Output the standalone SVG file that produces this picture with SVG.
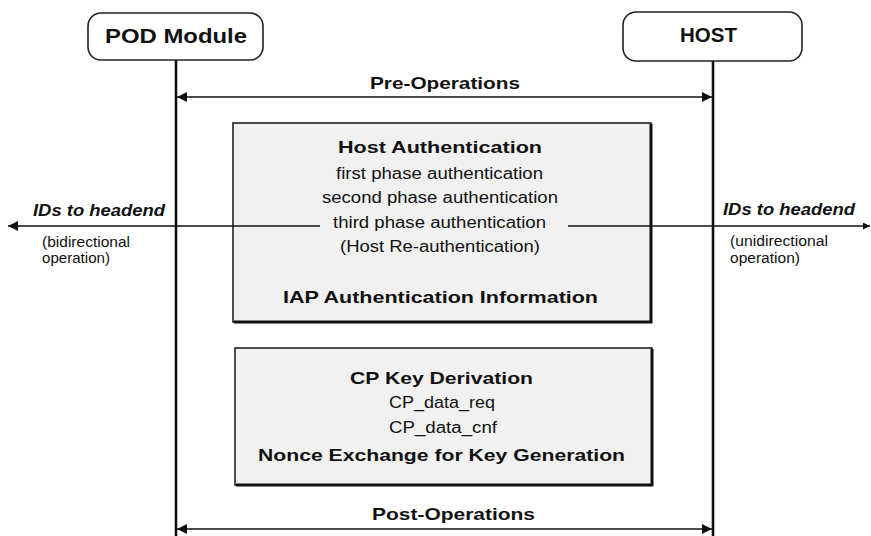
<svg xmlns="http://www.w3.org/2000/svg" width="871" height="536" viewBox="0 0 871 536">
  <style>
    text { font-family: "Liberation Sans", Arial, sans-serif; fill: #111; }
    .b { font-weight: bold; }
    .bi { font-weight: bold; font-style: italic; }
    .node { fill: #fff; stroke: #222; stroke-width: 1.6; }
    .panel { fill: #f1f1f1; stroke: #222; stroke-width: 1.6; }
    .shadow { fill: none; stroke: #111; stroke-width: 3; }
    .life { stroke: #111; stroke-width: 2.6; fill: none; }
    .msg { stroke: #111; stroke-width: 1.6; fill: none; }
  </style>
  <defs>
    <marker id="head" viewBox="0 0 10 10" refX="10" refY="5" markerWidth="11" markerHeight="10" markerUnits="userSpaceOnUse" orient="auto-start-reverse">
      <path d="M0,0 L10,5 L0,10 z" fill="#111"/>
    </marker>
    <marker id="headSmall" viewBox="0 0 10 10" refX="10" refY="5" markerWidth="8" markerHeight="7" markerUnits="userSpaceOnUse" orient="auto">
      <path d="M0,0 L10,5 L0,10 z" fill="#111"/>
    </marker>
  </defs>

  <rect width="871" height="536" fill="#fff"/>

  <!-- lifelines -->
  <g id="lifelines">
    <line class="life" x1="176" y1="60" x2="176" y2="536"/>
    <line class="life" x1="713" y1="61" x2="713" y2="536"/>
  </g>

  <!-- participants -->
  <g id="pod-module">
    <rect class="node" x="88" y="13" width="175" height="47" rx="13"/>
    <text class="b" x="105" y="43" font-size="20" textLength="142" lengthAdjust="spacingAndGlyphs">POD Module</text>
  </g>
  <g id="host">
    <rect class="node" x="623" y="12" width="179" height="49" rx="13"/>
    <text class="b" x="680" y="42" font-size="21" textLength="57" lengthAdjust="spacingAndGlyphs">HOST</text>
  </g>

  <!-- authentication panel -->
  <g id="host-authentication">
    <rect class="panel" x="233" y="123" width="418" height="199"/>
    <polyline class="shadow" points="651,124 651,322 234,322"/>
    <text class="b" x="338" y="153" font-size="17" textLength="204" lengthAdjust="spacingAndGlyphs">Host Authentication</text>
    <text x="336" y="179" font-size="16" textLength="207" lengthAdjust="spacingAndGlyphs">first phase authentication</text>
    <text x="322" y="203" font-size="16" textLength="236" lengthAdjust="spacingAndGlyphs">second phase authentication</text>
    <text x="333" y="228" font-size="16" textLength="213" lengthAdjust="spacingAndGlyphs">third phase authentication</text>
    <text x="340" y="252" font-size="16" textLength="200" lengthAdjust="spacingAndGlyphs">(Host Re-authentication)</text>
    <text class="b" x="283" y="303" font-size="17" textLength="315" lengthAdjust="spacingAndGlyphs">IAP Authentication Information</text>
  </g>

  <!-- key derivation panel -->
  <g id="cp-key-derivation">
    <rect class="panel" x="235" y="348" width="417" height="137"/>
    <polyline class="shadow" points="652,349 652,485 236,485"/>
    <text class="b" x="350" y="384" font-size="17" textLength="183" lengthAdjust="spacingAndGlyphs">CP Key Derivation</text>
    <text x="389" y="408" font-size="16" textLength="106" lengthAdjust="spacingAndGlyphs">CP_data_req</text>
    <text x="389" y="433" font-size="16" textLength="108" lengthAdjust="spacingAndGlyphs">CP_data_cnf</text>
    <text class="b" x="258" y="461" font-size="17" textLength="367" lengthAdjust="spacingAndGlyphs">Nonce Exchange for Key Generation</text>
  </g>

  <!-- connectors -->
  <g id="connectors">
    <line class="msg" x1="177" y1="97" x2="712" y2="97" marker-start="url(#head)" marker-end="url(#head)"/>
    <text class="b" x="370" y="89" font-size="17" textLength="150" lengthAdjust="spacingAndGlyphs">Pre-Operations</text>

    <line class="msg" x1="177" y1="529" x2="712" y2="529" marker-start="url(#head)" marker-end="url(#head)"/>
    <text class="b" x="372" y="520" font-size="17" textLength="163" lengthAdjust="spacingAndGlyphs">Post-Operations</text>

    <line class="msg" x1="320" y1="226" x2="8" y2="226" marker-end="url(#head)"/>
    <text class="bi" x="33" y="216" font-size="16" textLength="132" lengthAdjust="spacingAndGlyphs">IDs to headend</text>
    <text x="42" y="247" font-size="14" textLength="88" lengthAdjust="spacingAndGlyphs">(bidirectional</text>
    <text x="42" y="263" font-size="14" textLength="68" lengthAdjust="spacingAndGlyphs">operation)</text>

    <line class="msg" x1="568" y1="226" x2="870" y2="226" marker-end="url(#headSmall)"/>
    <text class="bi" x="723" y="215" font-size="16" textLength="132" lengthAdjust="spacingAndGlyphs">IDs to headend</text>
    <text x="730" y="246" font-size="14" textLength="98" lengthAdjust="spacingAndGlyphs">(unidirectional</text>
    <text x="730" y="263" font-size="14" textLength="70" lengthAdjust="spacingAndGlyphs">operation)</text>
  </g>
</svg>
